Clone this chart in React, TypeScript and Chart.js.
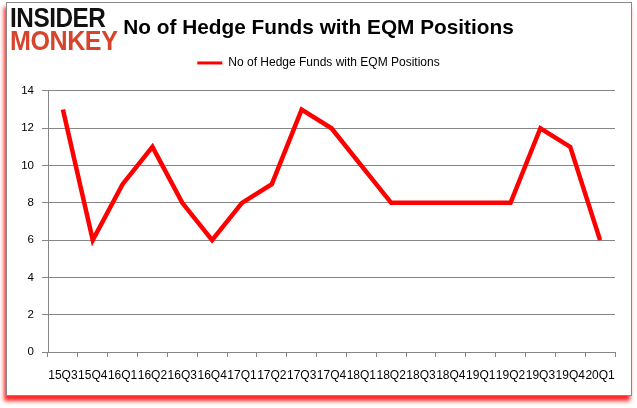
import React, { useEffect, useRef } from "react";
import { Chart, registerables } from "chart.js";

Chart.register(...registerables);

const categories = ["15Q3","15Q4","16Q1","16Q2","16Q3","16Q4","17Q1","17Q2","17Q3","17Q4","18Q1","18Q2","18Q3","18Q4","19Q1","19Q2","19Q3","19Q4","20Q1"];
const hedgeFunds = [13, 6, 9, 11, 8, 6, 8, 9, 13, 12, 10, 8, 8, 8, 8, 8, 12, 11, 6];
const seriesName = "No of Hedge Funds with EQM Positions";
const chartTitle = "No of Hedge Funds with EQM Positions";

export default function App() {
  const ref = useRef<HTMLCanvasElement | null>(null);
  useEffect(() => {
    if (!ref.current) return;
    const chart = new Chart(ref.current, {
      type: "line",
      data: {
        labels: categories,
        datasets: [{
          label: seriesName,
          data: hedgeFunds,
          borderColor: "#ff0000",
          backgroundColor: "#ff0000",
          borderWidth: 4.5,
          pointRadius: 0,
          tension: 0,
        }],
      },
      options: {
        responsive: false,
        animation: false,
        layout: { padding: { left: 22, right: 22, top: 0, bottom: 0 } },
        plugins: {
          title: {
            display: true,
            text: chartTitle,
            color: "#000",
            font: { family: "Liberation Sans", size: 20.8, weight: "bold" },
            padding: { top: 16, bottom: 6 },
          },
          subtitle: {
            display: true,
            text: "",
            weight: 500,
            font: { size: 10, lineHeight: 1.2 },
            padding: 0,
          },
          legend: {
            display: true,
            labels: {
              color: "#000",
              font: { family: "Liberation Sans", size: 12 },
              usePointStyle: true,
              pointStyle: "line",
              pointStyleWidth: 25,
              boxHeight: 12,
              padding: 10,
              generateLabels: (c: any) => {
                const items = Chart.defaults.plugins.legend.labels.generateLabels(c);
                return items.map((it: any) => ({ ...it, lineWidth: 3, pointStyle: "line" }));
              },
            },
          },
          tooltip: { enabled: false },
        },
        scales: {
          x: {
            offset: true,
            grid: { display: true, drawOnChartArea: false, offset: true, color: "#868686", tickLength: 5 },
            border: { display: true, color: "#868686" },
            ticks: { color: "#000", font: { family: "Liberation Sans", size: 12 }, maxRotation: 0, autoSkip: false, padding: 11 },
            afterFit: (s: any) => { s.height = 56; },
          },
          y: {
            min: 0,
            max: 14,
            ticks: { stepSize: 2, color: "#000", font: { family: "Liberation Sans", size: 11.5 }, padding: 8 },
            grid: { color: "#868686", tickLength: 6 },
            border: { display: true, color: "#868686" },
            afterFit: (s: any) => { s.width = 26; },
          },
        },
      },
    });
    return () => chart.destroy();
  }, []);

  return (
    <div style={{ position: "fixed", left: 0, top: 0, width: 637, height: 408, background: "#fff", overflow: "hidden" }}>
      <div style={{ position: "absolute", left: 6, top: 2, width: 624, height: 392, border: "1px solid #888", boxShadow: "-2px 5px 4px rgba(255,0,0,0.85)", background: "#fff" }} />
      <canvas ref={ref} width={637} height={408} style={{ position: "absolute", left: 0, top: 0 }} />
      <div style={{ position: "absolute", left: 10, top: 5, fontFamily: "Liberation Sans", fontWeight: 900, fontSize: 27, lineHeight: "26px", color: "#111", transform: "scaleX(0.9)", transformOrigin: "left top", letterSpacing: "-0.5px" }}>INSIDER</div>
      <div style={{ position: "absolute", left: 10, top: 28, fontFamily: "Liberation Sans", fontWeight: 900, fontSize: 27, lineHeight: "26px", color: "#d8432c", transform: "scaleX(0.93)", transformOrigin: "left top", letterSpacing: "-0.5px" }}>MONKEY</div>
    </div>
  );
}
